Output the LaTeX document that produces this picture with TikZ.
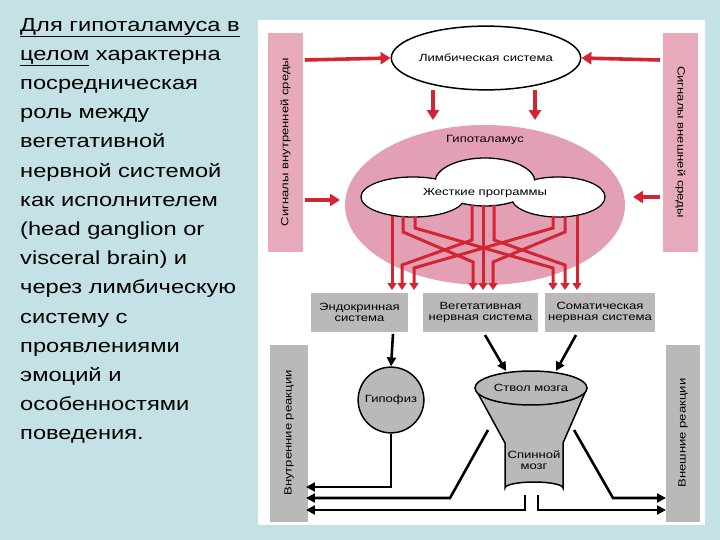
\documentclass[tikz,border=0pt]{standalone}
\usepackage{fontspec}
\setmainfont{Liberation Sans}
\newfontfamily\widefont[FakeStretch=1.25]{Liberation Sans}
\usetikzlibrary{arrows.meta,shapes.geometric}
\definecolor{bg}{HTML}{C4E2E6}
\definecolor{pinkb}{HTML}{E6AABB}
\definecolor{hyp}{HTML}{E3A0B4}
\definecolor{grayb}{HTML}{B9B9B9}
\definecolor{redl}{HTML}{D42431}
\tikzset{
 redarr/.style={draw=redl,line width=3.6pt,-{Triangle[length=10pt,width=12pt]}},
 redln/.style={draw=redl,line width=3pt,-{Triangle[length=7pt,width=9pt]}},
 blkarr/.style={draw=black,line width=2.6pt,-{Triangle[length=9pt,width=9pt]}},
 pbar/.style={fill=pinkb},
 gbar/.style={fill=grayb},
 vtxt/.style={font=\widefont\fontsize{10.5}{11}\selectfont,rotate=90,align=center},
 btxt/.style={font=\widefont\fontsize{10.5}{11}\selectfont,align=center},
}
\begin{document}
\begin{tikzpicture}[x=1bp,y=-1bp]
\path[fill=bg] (0,0) rectangle (720,540);
\path[fill=white] (258,20) rectangle (705,525);
\node[anchor=north west,align=left,inner sep=0pt,font=\widefont\fontsize{19}{29.3}\selectfont] (txt) at (20,18)
{\underline{Для гипоталамуса в}\\ \underline{целом} характерна\\ посредническая\\ роль между\\ вегетативной\\ нервной системой\\ как исполнителем\\ (head ganglion or\\ visceral brain) и\\ через лимбическую\\ систему с\\ проявлениями\\ эмоций и\\ особенностями\\ поведения.};
% side bars top
\path[pbar] (268,33) rectangle (303,252);
\node[vtxt] (lbt) at (285.5,142) {Сигналы внутренней среды};
\path[pbar] (663,33) rectangle (698,252);
\node[vtxt,rotate=180] (rbt) at (680.5,142) {Сигналы внешней среды};
% limbic
\node[draw,line width=1.5pt,ellipse,minimum width=185,minimum height=64,inner sep=0pt,fill=white,btxt] (lim) at (486,58) {Лимбическая система};
\draw[redarr] (305,60) -- (lim.west);
\draw[redarr] (660,60) -- (lim.east);
% hypothalamus
\path[fill=hyp] (485,205) ellipse[x radius=140,y radius=80];
\node[btxt] (hyt) at (485,140) {Гипоталамус};
\coordinate (h1) at (433,120);\coordinate (h2) at (535,120);
\draw[redarr] (433,90) -- (h1);
\draw[redarr] (535,90) -- (h2);
\draw[redarr] (305,200) -- (340,200);
\draw[redarr] (660,197) -- (633,197);
% clouds
\draw[fill=white,line width=1.3pt] (413,197) ellipse[x radius=52,y radius=20];
\draw[fill=white,line width=1.3pt] (558,197) ellipse[x radius=47,y radius=20];
\draw[fill=white,line width=1.3pt] (485,182) ellipse[x radius=50,y radius=24];
\fill[white] (413,197) ellipse[x radius=51,y radius=19];
\fill[white] (558,197) ellipse[x radius=46,y radius=19];
\node[btxt] (prog) at (485,193) {Жесткие программы};
% red program lines
\draw[redln] (392,216) -- (392,290);
\draw[redln] (403,216) -- (403,232) -- (473,262) -- (473,290);
\draw[redln] (415,216) -- (415,228) -- (553,268) -- (553,290);
\draw[redln] (483,205) -- (483,290);
\draw[redln] (472,205) -- (472,240) -- (402,265) -- (402,290);
\draw[redln] (494,205) -- (494,240) -- (565,265) -- (565,290);
\draw[redln] (577,216) -- (577,290);
\draw[redln] (565,216) -- (565,232) -- (493,262) -- (493,290);
\draw[redln] (553,216) -- (553,228) -- (414,268) -- (414,290);
% gray boxes
\node[gbar,btxt,minimum width=97,minimum height=39,inner sep=1pt] (endo) at (359.5,312.5) {Эндокринная\\система};
\node[gbar,btxt,minimum width=115,minimum height=39,inner sep=1pt] (veg) at (480.5,312.5) {Вегетативная\\нервная система};
\node[gbar,btxt,minimum width=110,minimum height=39,inner sep=1pt] (som) at (600,312.5) {Соматическая\\нервная система};
% bottom bars
\path[gbar] (270,345) rectangle (308,522);
\node[vtxt] (lbb) at (289,433) {Внутренние реакции};
\path[gbar] (666,345) rectangle (700,522);
\node[vtxt] (rbb) at (683,433) {Внешние реакции};
% hypophysis
\node[draw,circle,gbar,line width=1.5pt,minimum size=66,inner sep=0pt,btxt] (hyph) at (391,400) {Гипофиз};
\draw[blkarr] (393,334) -- (hyph.north);
% brain stem funnel
\draw[gbar,line width=1.5pt] (475,388) -- (505,443) -- (505,488) arc[start angle=180,end angle=360,x radius=29,y radius=6] -- (563,443) -- (587,388);
\draw[gbar,line width=1.5pt] (531,388) ellipse[x radius=56,y radius=17];
\node[btxt] (stem) at (531,388) {Ствол мозга};
\node[btxt] (cord) at (534,460) {Спинной\\мозг};
\coordinate (st) at (506,371);\coordinate (ss) at (556,371);
\draw[blkarr] (485,335) -- (st);
\draw[blkarr] (576,335) -- (ss);
% output lines
\coordinate (L1) at (306,487);\coordinate (L2) at (306,498);\coordinate (L3) at (306,510);
\coordinate (R2) at (666,498);\coordinate (R3) at (666,510);
\draw[blkarr] (hyph.south) -- (391,487) -- (L1);
\draw[blkarr] (488,430) -- (450,498) -- (L2);
\draw[blkarr] (525,495) -- (525,510) -- (L3);
\draw[blkarr] (538,495) -- (538,510) -- (R3);
\draw[blkarr] (574,430) -- (613,498) -- (R2);
\end{tikzpicture}
\end{document}
